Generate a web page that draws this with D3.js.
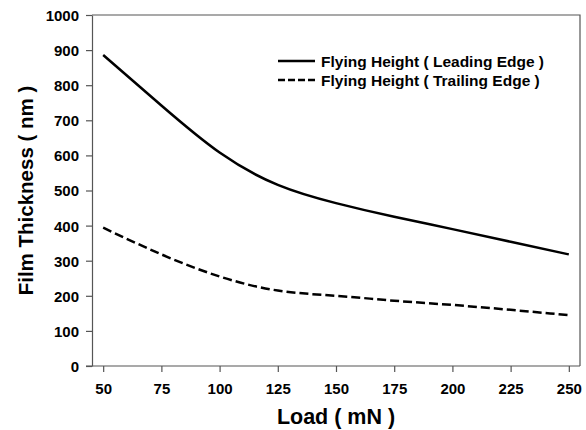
<!DOCTYPE html>
<html>
<head>
<meta charset="utf-8">
<script src="https://cdn.jsdelivr.net/npm/d3@7"></script>
<style>
  body { margin: 0; background: #fff; }
  text { font-family: "Liberation Sans", Arial, sans-serif; font-weight: bold; fill: #000; }
</style>
</head>
<body>
<svg id="chart" width="586" height="430"></svg>
<script>
// values
const loads = [50, 75, 100, 125, 150, 175, 200, 225, 250];
const leadingEdge = [886, 742, 608, 516, 464, 425, 390, 354, 318];
const trailingEdge = [394, 318, 255, 215, 200, 186, 174, 160, 145];
const xTicks = [50, 75, 100, 125, 150, 175, 200, 225, 250];
const yTicks = [0, 100, 200, 300, 400, 500, 600, 700, 800, 900, 1000];

const svg = d3.select('#chart');
const margin = { top: 15, right: 6, bottom: 64, left: 92 };
const width = 586 - margin.left - margin.right;
const height = 430 - margin.top - margin.bottom;

// 50..250 sit half a category in from the frame, like the original
const x = d3.scaleLinear().domain([45.2, 254.8]).range([0, width]);
const y = d3.scaleLinear().domain([0, 1000]).range([height, 0]);

const g = svg.append('g').attr('transform', `translate(${margin.left},${margin.top})`);

// frame top / right
g.append('path')
  .attr('d', `M0,0H${width}V${height}`)
  .attr('fill', 'none')
  .attr('stroke', '#555')
  .attr('stroke-width', 1.2);

const xAxis = g.append('g')
  .attr('transform', `translate(0,${height})`)
  .call(d3.axisBottom(x).tickValues(xTicks).tickFormat(d3.format('d')).tickSize(6).tickSizeOuter(0));
xAxis.select('.domain').attr('d', `M-6,0H${width}`);

const yAxis = g.append('g')
  .call(d3.axisLeft(y).tickValues(yTicks).tickFormat(d3.format('d')).tickSize(6).tickSizeOuter(0));

[xAxis, yAxis].forEach(a => {
  a.attr('font-family', null).attr('font-size', null);
  a.selectAll('path, line').attr('stroke', '#555').attr('stroke-width', 1.2);
  a.selectAll('text').attr('fill', '#000');
});
xAxis.selectAll('text').attr('font-size', 15).attr('dy', null).attr('y', 28);
yAxis.selectAll('text').attr('font-size', 15).attr('x', -13).attr('dy', '0.36em');

const line = d3.line()
  .x((d, i) => x(loads[i]))
  .y(d => y(d))
  .curve(d3.curveNatural);

g.append('path')
  .datum(leadingEdge)
  .attr('fill', 'none')
  .attr('stroke', '#000')
  .attr('stroke-width', 2.5)
  .attr('d', line);

g.append('path')
  .datum(trailingEdge)
  .attr('fill', 'none')
  .attr('stroke', '#000')
  .attr('stroke-width', 2.5)
  .attr('stroke-dasharray', '9,4')
  .attr('d', line);

// axis titles
svg.append('text')
  .attr('x', margin.left + width / 2)
  .attr('y', 424)
  .attr('text-anchor', 'middle')
  .attr('font-size', 21.5)
  .text('Load ( mN )');

svg.append('text')
  .attr('transform', `translate(33,${margin.top + height / 2}) rotate(-90)`)
  .attr('text-anchor', 'middle')
  .attr('font-size', 20.5)
  .text('Film Thickness ( nm )');

// legend
const legendItems = [
  { label: 'Flying Height ( Leading Edge )', dash: null },
  { label: 'Flying Height ( Trailing Edge )', dash: '7,3' }
];
const legend = svg.append('g').attr('transform', 'translate(278,61)');
legendItems.forEach((item, i) => {
  const row = legend.append('g').attr('transform', `translate(0,${i * 19})`);
  row.append('line')
    .attr('x1', 0).attr('x2', 37)
    .attr('stroke', '#000')
    .attr('stroke-width', 2.5)
    .attr('stroke-dasharray', item.dash);
  row.append('text')
    .attr('x', 43)
    .attr('y', 5.5)
    .attr('font-size', 15.5)
    .text(item.label);
});
</script>
</body>
</html>
